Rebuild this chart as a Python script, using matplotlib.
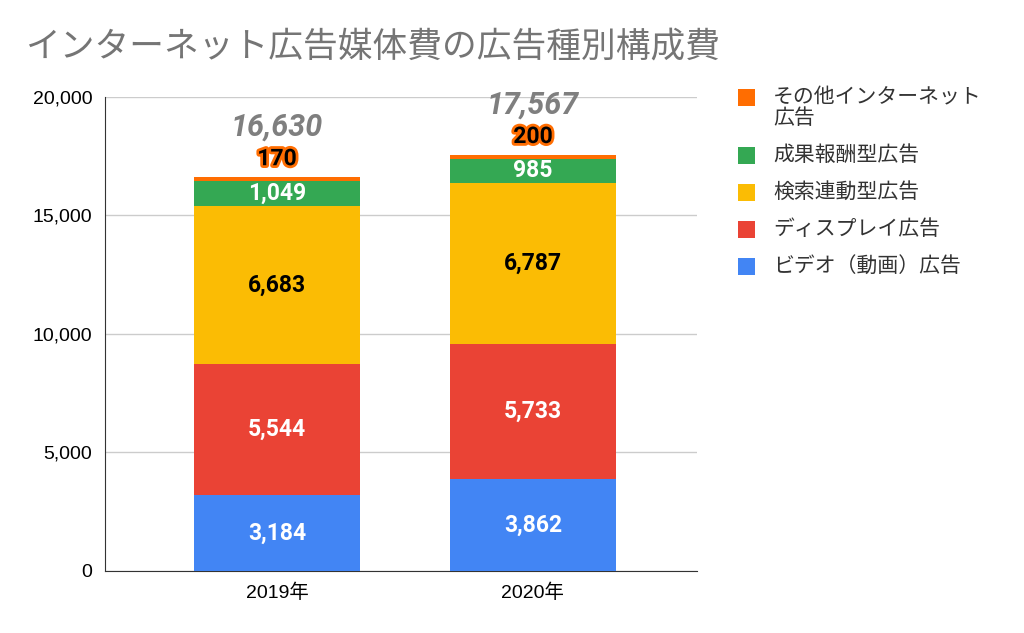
import matplotlib
matplotlib.use("Agg")
import matplotlib.pyplot as plt
import matplotlib.patheffects as pe
from matplotlib.patches import Rectangle

plt.rcParams['font.family'] = ['Noto Sans CJK JP', 'DejaVu Sans']
num_font = ['Roboto', 'DejaVu Sans']
tick_font = ['Liberation Sans', 'Noto Sans CJK JP']

years = ['2019年', '2020年']
series_names = ['ビデオ（動画）広告', 'ディスプレイ広告', '検索連動型広告', '成果報酬型広告', 'その他インターネット\n広告']
video = [3184, 3862]
display = [5544, 5733]
search = [6683, 6787]
affiliate = [1049, 985]
other = [170, 200]
totals = [16630, 17567]

series = [video, display, search, affiliate, other]
colors = ['#4285f4', '#ea4335', '#fbbc04', '#34a853', '#ff6d01']
label_colors = ['white', 'white', 'black', 'white', 'black']

W, H = 1024, 633
fig = plt.figure(figsize=(W / 100, H / 100), dpi=100)
ax = fig.add_axes([0.1025, 0.098, 0.578, 0.749])

x = range(len(years))
bottom = [0, 0]
for vals, col, lc in zip(series, colors, label_colors):
    ax.bar(x, vals, width=0.65, bottom=bottom, color=col, zorder=3)
    for i, v in enumerate(vals):
        if v < 500:
            # small segment: label sits above the bar with an outline
            ax.text(i, bottom[i] + v + 760, f'{v:,}', ha='center', va='center',
                    fontsize=16.5, fontweight='bold', color='black', family=num_font,
                    path_effects=[pe.withStroke(linewidth=4, foreground='#ff6d01')], zorder=5)
        else:
            ax.text(i, bottom[i] + v / 2, f'{v:,}', ha='center', va='center',
                    fontsize=16.5, fontweight='bold', color=lc, family=num_font, zorder=5)
    bottom = [b + v for b, v in zip(bottom, vals)]

for i, t in enumerate(totals):
    ax.text(i, t + 2080, f'{t:,}', ha='center', va='center', fontsize=22,
            fontweight='bold', fontstyle='italic', color='#7f7f7f',
            family=num_font, zorder=5)

ax.set_xlim(-0.672, 1.64)
ax.set_ylim(0, 20000)
ax.set_yticks([0, 5000, 10000, 15000, 20000])
ax.set_yticklabels(['0', '5,000', '10,000', '15,000', '20,000'], fontsize=14, family=tick_font)
ax.set_xticks(list(x))
ax.set_xticklabels(years, fontsize=14, family=tick_font)
ax.grid(axis='y', color='#cccccc', linewidth=1, zorder=0)
ax.tick_params(length=0, pad=9)
for s in ['top', 'right']:
    ax.spines[s].set_visible(False)
ax.spines['left'].set_color('#333333')
ax.spines['bottom'].set_color('#333333')

fig.text(25 / W, 1 - 47 / H, 'インターネット広告媒体費の広告種別構成費', fontsize=25,
         color='#757575', ha='left', va='center')

# legend drawn by hand so the swatch lines up with the first text line
y = 97
for name, c in zip(series_names[::-1], colors[::-1]):
    fig.patches.append(Rectangle((738 / W, 1 - (y + 9) / H), 17 / W, 17 / H,
                                 facecolor=c, edgecolor='none', transform=fig.transFigure))
    lines = name.split('\n')
    for k, line in enumerate(lines):
        fig.text(773 / W, 1 - (y + 21 * k) / H, line, fontsize=15, color='#333333',
                 ha='left', va='center')
    y += 37 + 21 * (len(lines) - 1)

fig.savefig('out.png', dpi=100)
